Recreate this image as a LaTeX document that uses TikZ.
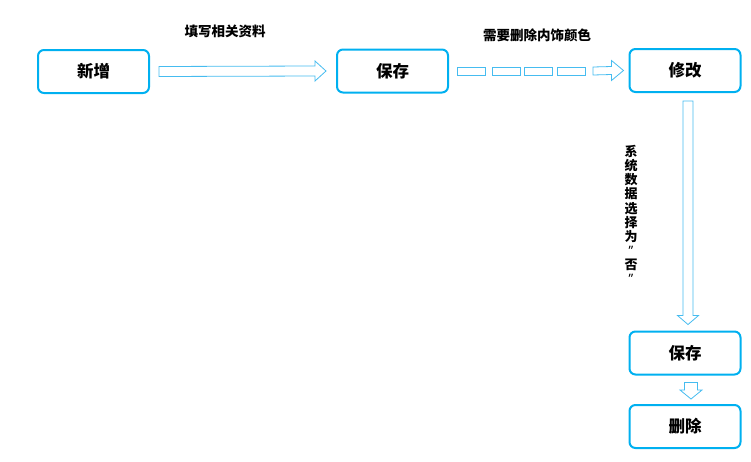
\documentclass[tikz,border=0pt]{standalone}
\usepackage{fontspec}
\setmainfont{Noto Sans CJK SC}
\newfontfamily\latinfont{Noto Sans}
\usepackage{tikz}
\usetikzlibrary{positioning,calc}

\definecolor{boxblue}{RGB}{0,176,240}
\definecolor{arrowblue}{RGB}{70,188,240}

% hollow block arrows: start, end, shaft half width, head half width, head length
\newcommand\harrow[5]{%
\draw[hollow] ($(#1)+(0,-#3)$) -- ($(#2)+(-#5,-#3)$) -- ($(#2)+(-#5,-#4)$) -- (#2)
  -- ($(#2)+(-#5,#4)$) -- ($(#2)+(-#5,#3)$) -- ($(#1)+(0,#3)$) -- cycle;}
\newcommand\varrow[5]{%
\draw[hollow] ($(#1)+(-#3,0)$) -- ($(#2)+(-#3,-#5)$) -- ($(#2)+(-#4,-#5)$) -- (#2)
  -- ($(#2)+(#4,-#5)$) -- ($(#2)+(#3,-#5)$) -- ($(#1)+(#3,0)$) -- cycle;}

\begin{document}
\begin{tikzpicture}[x=1pt,y=-1pt,
  stepbox/.style={draw=boxblue,line width=2pt,rounded corners=6pt,fill=white,
    minimum width=111pt,minimum height=43pt,inner sep=0pt,
    font=\fontsize{16.5}{18}\selectfont\bfseries},
  hollow/.style={draw=arrowblue,line width=0.8pt,fill=white,line join=miter},
  note/.style={inner sep=0pt,font=\fontsize{13.5}{15}\selectfont\bfseries}]
\useasboundingbox (0,0) rectangle (751,461);
\node[stepbox] (xz) at (93.5,71.5) {新增};
\node[stepbox] (bc1) at (392.5,71) {保存};
\node[stepbox] (xg) at (685,70.5) {修改};
\node[stepbox] (bc2) at (685,353) {保存};
\node[stepbox] (sc) at (685,426.5) {删除};

% labels
\node[note] (l1) at (225,31.5) {填写相关资料};
\node[note] (l2) at (537,35.3) {需要删除内饰颜色};
\node[note,font=\fontsize{13}{14.1}\selectfont\bfseries,align=center] (l3) at (631,214.5)
  {系\\统\\数\\据\\选\\择\\为\\{\latinfont”}\\否\\{\latinfont”}};

% arrows
\coordinate (a1s) at ($(xz.east)+(9,0)$);
\coordinate (a1e) at ($(bc1.west)+(-10,0)$);
\harrow{a1s}{a1e}{5}{10}{11}
\foreach \x in {0,35,67,100}{%
\draw[hollow] ($(bc1.east)+(8+\x,-4)$) rectangle ++(28,8);
}
\coordinate (a2s) at ($(bc1.east)+(144,0)$);
\coordinate (a2e) at ($(xg.west)+(-5,0)$);
\harrow{a2s}{a2e}{4}{10}{12}
\coordinate (a3s) at ($(xg.south)+(3,8)$);
\coordinate (a3e) at ($(bc2.north)+(3,-6)$);
\varrow{a3s}{a3e}{5}{10.5}{9}
\coordinate (a4s) at ($(bc2.south)+(6,7)$);
\coordinate (a4e) at ($(sc.north)+(6,-5)$);
\varrow{a4s}{a4e}{6.5}{11}{9}
\end{tikzpicture}
\end{document}
